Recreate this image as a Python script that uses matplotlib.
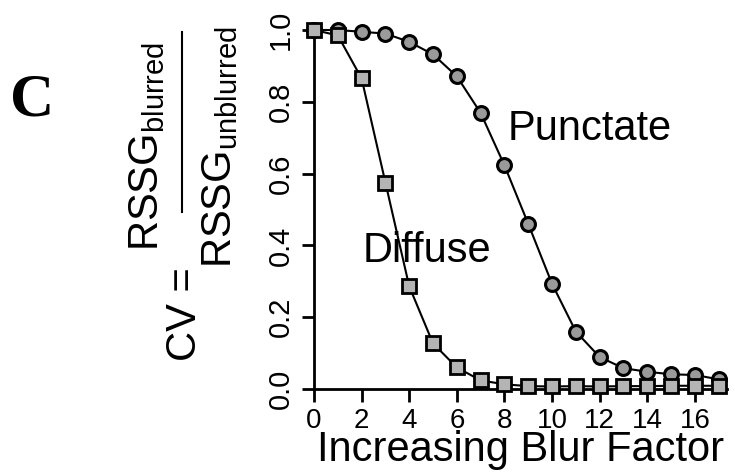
import matplotlib
matplotlib.use('Agg')
import matplotlib.pyplot as plt
import numpy as np

#Data - coefficient of variation vs blur factor
blur_factor = [0, 1, 2, 3, 4, 5, 6, 7, 8, 9, 10, 11, 12, 13, 14, 15, 16, 17]
diffuse = [1.0, 0.985, 0.865, 0.575, 0.286, 0.127, 0.06, 0.024, 0.013, 0.008,
           0.007, 0.008, 0.007, 0.008, 0.008, 0.009, 0.009, 0.009]
punctate = [1.0, 1.0, 0.995, 0.99, 0.967, 0.932, 0.871, 0.769, 0.623, 0.46,
            0.293, 0.16, 0.089, 0.058, 0.048, 0.041, 0.039, 0.027]
x_ticks = [0, 2, 4, 6, 8, 10, 12, 14, 16]
y_ticks = [0.0, 0.2, 0.4, 0.6, 0.8, 1.0]

plt.rcParams['font.family'] = ['Liberation Sans', 'DejaVu Sans']
plt.rcParams['mathtext.fontset'] = 'custom'
plt.rcParams['mathtext.rm'] = 'Liberation Sans'

W, H = 735, 472
fig = plt.figure(figsize=(W / 100, H / 100), dpi=100)

def px(x, y):
    return x / W, 1 - y / H

ax = fig.add_axes([314 / W, 1 - 389 / H, (727 - 314) / W, (389 - 30) / H])

ax.plot(blur_factor, punctate, color='black', lw=1.5, marker='o', ms=10,
        mfc='#9a9a9a', mec='black', mew=2.2, clip_on=False, zorder=3)
ax.plot(blur_factor, diffuse, color='black', lw=1.5, marker='s', ms=9.5,
        mfc='#b4b4b4', mec='black', mew=2.0, clip_on=False, zorder=4)

ax.set_xlim(0, 17.35)
ax.set_ylim(0, 1.0)
ax.set_xticks(x_ticks)
ax.set_yticks(y_ticks)
ax.set_yticklabels(['%.1f' % v for v in y_ticks])
for side in ['top', 'right']:
    ax.spines[side].set_visible(False)
for side in ['left', 'bottom']:
    ax.spines[side].set_linewidth(2)
ax.tick_params(axis='both', direction='out', length=9, width=2, labelsize=20, pad=5)
ax.tick_params(axis='y', labelsize=21, labelrotation=90)
for lab in ax.get_yticklabels():
    lab.set_va('center')

ax.set_xlabel('Increasing Blur Factor', fontsize=30, labelpad=-3)

#Curve labels
ax.text(8.15, 0.694, 'Punctate', fontsize=30, ha='left', va='baseline')
ax.text(2.06, 0.354, 'Diffuse', fontsize=30, ha='left', va='baseline')

#Y axis label built as a fraction
fig.text(*px(185, 314), 'CV =', fontsize=30, rotation=90, ha='center', va='center')
fig.text(*px(147, 146), r'$\mathrm{RSSG}_{\mathrm{blurred}}$', fontsize=30,
         rotation=90, ha='center', va='center')
fig.text(*px(220, 147), r'$\mathrm{RSSG}_{\mathrm{unblurred}}$', fontsize=30,
         rotation=90, ha='center', va='center')
fig.add_artist(plt.Line2D([182 / W, 182 / W], [1 - 32 / H, 1 - 212 / H],
                          color='black', lw=1.5, transform=fig.transFigure))

#Panel letter
fig.text(*px(32, 101), 'C', fontsize=44, fontweight='bold',
         family='Liberation Serif', ha='center', va='center')

fig.savefig('out.png', dpi=100)
